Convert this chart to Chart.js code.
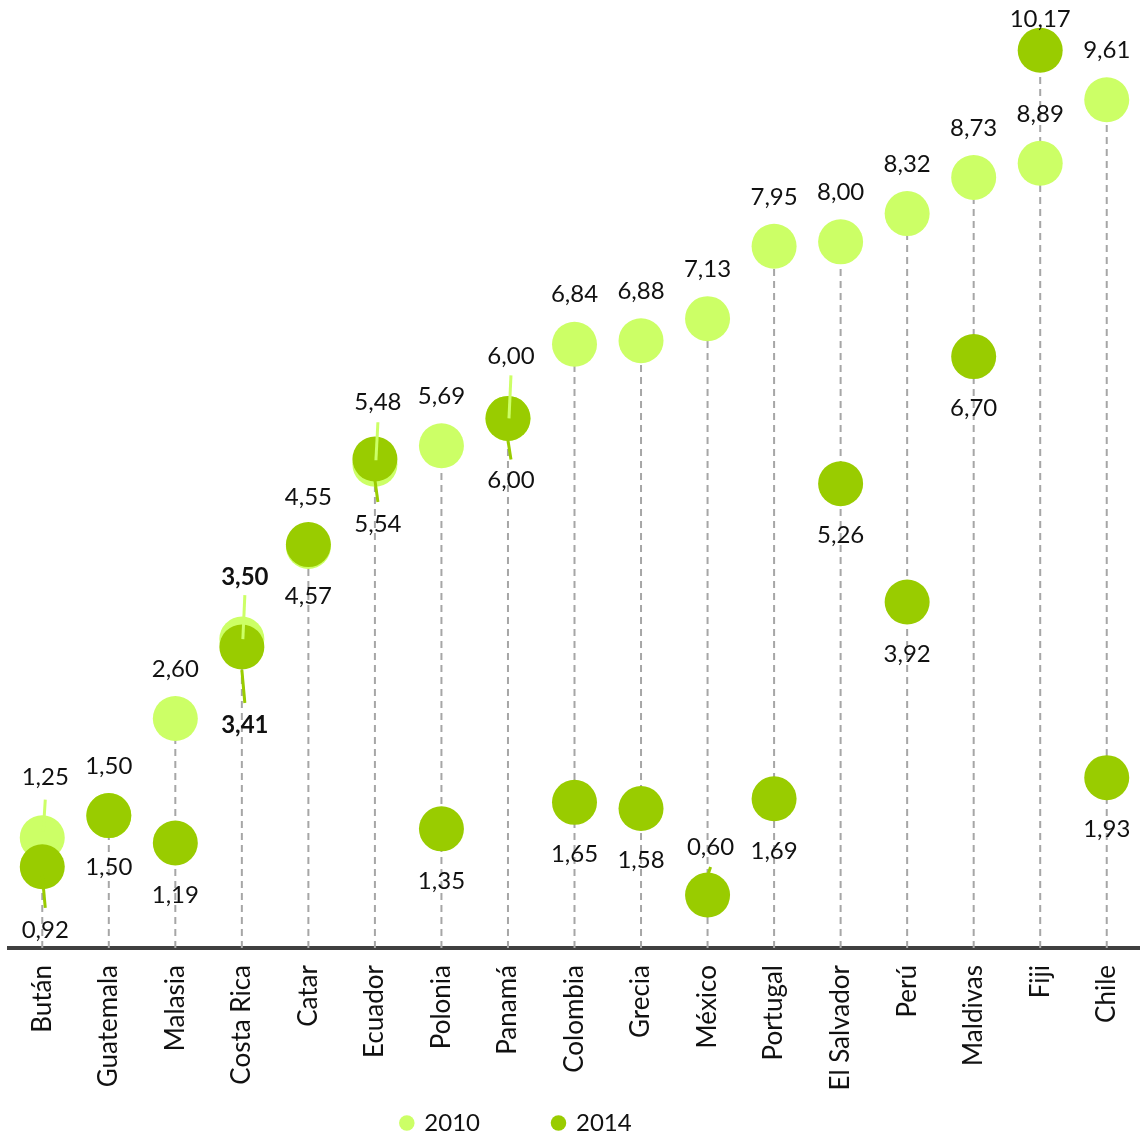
<!DOCTYPE html>
<html>
<head>
<meta charset="utf-8">
<script src="https://cdn.jsdelivr.net/npm/chart.js@4.4.1/dist/chart.umd.min.js"></script>
<style>
  html, body { margin: 0; padding: 0; background: #fff; }
  .wrap { width: 1140px; height: 1138px; position: relative; }
</style>
</head>
<body>
<div class="wrap"><canvas id="chart"></canvas></div>
<script>
const countries = ['Bután', 'Guatemala', 'Malasia', 'Costa Rica', 'Catar', 'Ecuador', 'Polonia', 'Panamá',
    'Colombia', 'Grecia', 'México', 'Portugal', 'El Salvador', 'Perú', 'Maldivas', 'Fiji', 'Chile'];
const values2010 = [1.25, 1.50, 2.60, 3.50, 4.55, 5.48, 5.69, 6.00, 6.84, 6.88, 7.13, 7.95, 8.00, 8.32, 8.73, 8.89, 9.61];
const values2014 = [0.92, 1.50, 1.19, 3.41, 4.57, 5.54, 1.35, 6.00, 1.65, 1.58, 0.60, 1.69, 5.26, 3.92, 6.70, 10.17, 1.93];
const seriesNames = ['2010', '2014'];

const LIGHT = '#ccff66';
const DARK = '#99cc00';
const FONT = 'Lato, "Open Sans", sans-serif';

// labels moved off the default spot where dots overlap (dy px from dot, lead = [from dot, gap to text])
const nudges = {
    '2010': {
        'Bután': { dy: -60, lead: [-6, 22] },
        'Costa Rica': { dy: -62, lead: [0, 18], bold: true },
        'Ecuador': { dy: -62, lead: [-4, 20] },
        'Panamá': { dy: -62, lead: [0, 19] }
    },
    '2014': {
        'Bután': { dy: 63, lead: [8, 22] },
        'Costa Rica': { dy: 78, lead: [23, 22], bold: true },
        'Ecuador': { dy: 65, lead: [21, 22] },
        'Panamá': { dy: 62, lead: [22, 21] },
        'México': { dy: -48, lead: [-22, 20] },
        'Fiji': { dy: -31 }
    }
};

const fmt = v => v.toFixed(2).replace('.', ',');

// dashed drop line from 0 up to the higher of the two dots
const dropLines = countries.flatMap((c, i) => [
    { x: c, y: 0 },
    { x: c, y: Math.max(values2010[i], values2014[i]) },
    { x: c, y: null }
]);

const valueLabels = {
    id: 'valueLabels',
    afterDatasetsDraw(chart) {
        const ctx = chart.ctx;
        ctx.save();
        [values2010, values2014].forEach((vals, s) => {
            const meta = chart.getDatasetMeta(s);
            const name = seriesNames[s];
            vals.forEach((v, i) => {
                const pt = meta.data[i];
                const n = nudges[name][countries[i]] || {};
                const dy = n.dy ?? (s === 0 ? -49.5 : 52);
                const lx = pt.x + (n.lead ? 3 : 0);
                const ly = pt.y + dy;
                if (n.lead) {
                    const [a, b] = n.lead;
                    const up = dy < 0;
                    ctx.beginPath();
                    ctx.strokeStyle = s === 0 ? LIGHT : DARK;
                    ctx.lineWidth = 3;
                    ctx.moveTo(pt.x + (up ? 1 : 0), pt.y + a);
                    ctx.lineTo(lx, up ? ly + b : ly - b);
                    ctx.stroke();
                }
                ctx.font = `${n.bold ? 'bold ' : ''}24px ${FONT}`;
                ctx.fillStyle = '#111';
                ctx.textAlign = 'center';
                ctx.textBaseline = 'middle';
                ctx.fillText(fmt(v), lx, ly);
            });
        });
        ctx.restore();
    }
};

const pointSet = (label, data, color, order) => ({
    label,
    data,
    showLine: false,
    backgroundColor: color,
    borderColor: color,
    borderWidth: 0,
    pointRadius: 22.5,
    pointHoverRadius: 22.5,
    pointStyle: 'circle',
    clip: false,
    order
});

new Chart(document.getElementById('chart'), {
    type: 'line',
    data: {
        labels: countries,
        datasets: [
            pointSet(seriesNames[0], values2010, LIGHT, 2),
            pointSet(seriesNames[1], values2014, DARK, 1),
            {
                label: 'drop',
                data: dropLines,
                borderColor: '#a6a6a6',
                borderWidth: 2,
                borderDash: [7, 5],
                pointRadius: 0,
                spanGaps: false,
                clip: false,
                order: 3
            }
        ]
    },
    options: {
        responsive: true,
        maintainAspectRatio: false,
        animation: false,
        events: [],
        layout: { autoPadding: false, padding: { left: 9, right: -4, top: 0, bottom: 0 } },
        scales: {
            x: {
                type: 'category',
                offset: true,
                grid: { display: true, color: 'transparent', drawTicks: false },
                border: { display: true, color: '#404040', width: 4 },
                ticks: {
                    minRotation: 90,
                    maxRotation: 90,
                    padding: 17,
                    color: '#111',
                    font: { family: FONT, size: 26 }
                },
                afterFit(scale) {
                    scale.height = 150;
                    scale.paddingLeft = 0;
                    scale.paddingRight = 0;
                }
            },
            y: {
                display: false,
                min: 0,
                max: 10.74
            }
        },
        plugins: {
            tooltip: { enabled: false },
            legend: {
                position: 'bottom',
                maxHeight: 40,
                labels: {
                    usePointStyle: true,
                    boxWidth: 11,
                    boxHeight: 11,
                    padding: 13,
                    color: '#111',
                    font: { family: FONT, size: 24 },
                    generateLabels(chart) {
                        const items = Chart.defaults.plugins.legend.labels.generateLabels(chart)
                            .filter(it => it.datasetIndex < 2)
                            .sort((a, b) => a.datasetIndex - b.datasetIndex);
                        // extra room between the two entries, and shift the pair left like the original
                        items[0].text += '\u2002\u2002\u2002\u2002\u2002';
                        items[1].text += '\u2002\u2002\u2002\u2002\u2002\u2002\u2002\u2002\u2002\u2002';
                        return items;
                    }
                }
            }
        }
    },
    plugins: [valueLabels]
});
</script>
</body>
</html>
